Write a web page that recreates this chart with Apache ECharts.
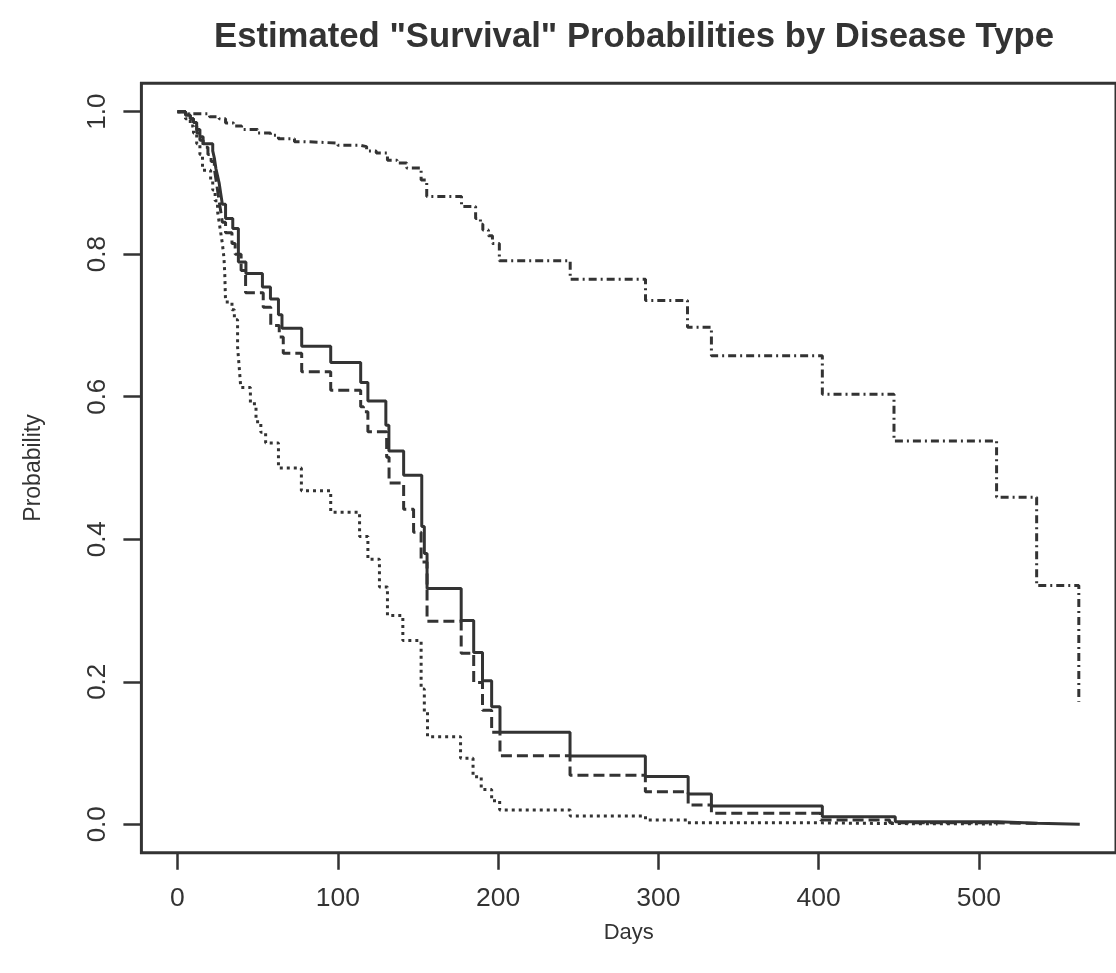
<!DOCTYPE html>
<html>
<head>
<meta charset="utf-8">
<script src="https://cdn.jsdelivr.net/npm/echarts@6/dist/echarts.min.js"></script>
<style>
html,body{margin:0;padding:0;background:#fff;}
#chart{width:1116px;height:973px;}
</style>
</head>
<body>
<div id="chart"></div>
<script>
// ---- data ----
var title = 'Estimated "Survival" Probabilities by Disease Type';
var xName = 'Days';
var yName = 'Probability';
var xTicks = [0, 100, 200, 300, 400, 500];
var yTicks = [0, 0.2, 0.4, 0.6, 0.8, 1.0];

// solid curve
var solidT = [0, 5, 8, 10, 12, 14, 16, 22, 23, 24, 25, 26, 27, 28, 30, 34.5, 38, 42.7, 53, 58, 63, 65.2, 77.5, 95.6, 114.3, 118.8, 130, 131.9, 141.1, 152.4, 154, 155.7, 177, 184.8, 190.3, 196, 201.2, 244.9, 291.9, 318.6, 333.1, 402.3, 447.8, 511.6, 536.6, 562.9];
var solidS = [1, 0.995, 0.99, 0.985, 0.975, 0.965, 0.955, 0.945, 0.935, 0.92, 0.91, 0.9, 0.885, 0.87, 0.85, 0.836, 0.789, 0.773, 0.754, 0.737, 0.715, 0.696, 0.671, 0.648, 0.620, 0.594, 0.560, 0.524, 0.490, 0.418, 0.380, 0.331, 0.286, 0.241, 0.2015, 0.165, 0.129, 0.096, 0.067, 0.0425, 0.0257, 0.0107, 0.0036, 0.0014, 0, 0];

// dashed curve
var dashT = [0, 5, 8, 10, 12, 14, 16, 19, 21, 23, 24, 25, 26, 27, 28, 30, 34, 36, 39.7, 42.5, 53.5, 58.2, 63.5, 66, 77.5, 95.6, 114.3, 116, 118.8, 130.5, 132, 141.1, 147.3, 152, 155.7, 177, 184.8, 190.3, 196, 201.2, 244.9, 291.9, 318.6, 333.1, 401.2, 444.3, 511.6, 536.6];
var dashS = [1, 0.995, 0.99, 0.98, 0.97, 0.96, 0.95, 0.94, 0.93, 0.92, 0.905, 0.89, 0.875, 0.86, 0.845, 0.83, 0.815, 0.80, 0.777, 0.746, 0.7255, 0.70, 0.684, 0.661, 0.635, 0.609, 0.586, 0.579, 0.551, 0.515, 0.479, 0.442, 0.41, 0.368, 0.285, 0.240, 0.199, 0.160, 0.129, 0.0963, 0.069, 0.0458, 0.027, 0.0154, 0.006, 0.002, 0.001, 0];

// dotted curve
var dotT = [0, 5, 8, 10, 12, 14, 15.6, 20.7, 22, 23.5, 25, 26, 27, 28, 29, 29.5, 30, 34, 35.5, 37.5, 38.5, 39.5, 45.5, 49, 52, 55, 63, 77.3, 95.6, 113.6, 118.8, 126, 131, 140.6, 152, 154, 156, 176.6, 184.4, 189.5, 196, 201, 245, 292, 318, 402, 447, 511.6];
var dotS = [1, 0.99, 0.98, 0.97, 0.955, 0.94, 0.918, 0.904, 0.89, 0.875, 0.86, 0.845, 0.83, 0.815, 0.795, 0.773, 0.733, 0.722, 0.708, 0.67, 0.642, 0.613, 0.59, 0.565, 0.55, 0.535, 0.5, 0.468, 0.438, 0.404, 0.372, 0.333, 0.293, 0.258, 0.19, 0.158, 0.123, 0.0926, 0.0668, 0.049, 0.033, 0.020, 0.0117, 0.006, 0.002, 0.001, 0.0005, 0];

// dash-dot curve
var dashDotT = [0, 7, 20, 26, 30, 35, 40, 50, 58, 63, 73, 79, 100, 114, 118, 124, 131, 137, 143, 152, 155.5, 177.2, 186, 189, 190.5, 194, 196.5, 200.8, 245, 292, 318.2, 333.1, 402.3, 447, 511, 536, 562.3];
var dashDotS = [1, 0.997, 0.993, 0.99, 0.984, 0.98, 0.975, 0.97, 0.967, 0.962, 0.958, 0.956, 0.953, 0.951, 0.945, 0.942, 0.932, 0.928, 0.921, 0.904, 0.881, 0.867, 0.85, 0.842, 0.834, 0.826, 0.815, 0.791, 0.765, 0.735, 0.6975, 0.6576, 0.6034, 0.538, 0.459, 0.335, 0.172];

function pairs(t, s) {
  var out = [];
  for (var i = 0; i < t.length; i++) out.push([t[i], s[i]]);
  return out;
}

var ink = '#333333';
var font = "'Liberation Sans', Arial, Helvetica, sans-serif";

var chart = echarts.init(document.getElementById('chart'), null, {renderer: 'canvas'});

function curve(name, t, s, type) {
  return {
    name: name,
    type: 'line',
    step: 'end',
    showSymbol: false,
    symbol: 'none',
    animation: false,
    lineStyle: {color: ink, width: 3, type: type},
    data: pairs(t, s)
  };
}

chart.setOption({
  animation: false,
  backgroundColor: '#ffffff',
  graphic: [{
    type: 'text',
    x: 634, y: 37,
    style: {
      text: title,
      fill: ink,
      font: "bold 34.7px " + font,
      textAlign: 'center',
      textVerticalAlign: 'middle'
    }
  }],
  grid: {
    left: 141.4, top: 83.2, right: -13, bottom: 120.2,
    show: true, borderColor: ink, borderWidth: 3, backgroundColor: 'transparent'
  },
  xAxis: {
    type: 'value', min: -22.5, max: 585.5,
    name: xName, nameLocation: 'middle', nameGap: 69,
    nameTextStyle: {color: ink, fontFamily: font, fontSize: 22},
    axisLine: {show: false, onZero: false},
    splitLine: {show: false},
    axisTick: {show: true, inside: false, length: 17, customValues: xTicks, lineStyle: {color: ink, width: 2.5}},
    axisLabel: {show: true, customValues: xTicks, margin: 32, color: ink, fontFamily: font, fontSize: 26.5}
  },
  yAxis: {
    type: 'value', min: -0.04, max: 1.04,
    name: yName, nameLocation: 'middle', nameGap: 96,
    nameTextStyle: {color: ink, fontFamily: font, fontSize: 23},
    axisLine: {show: false, onZero: false},
    splitLine: {show: false},
    axisTick: {show: true, inside: false, length: 18, customValues: yTicks, lineStyle: {color: ink, width: 2.5}},
    axisLabel: {show: true, customValues: yTicks, rotate: 90, margin: 31, color: ink, fontFamily: font, fontSize: 26,
      formatter: function (v) { return v.toFixed(1); }}
  },
  series: [
    curve('Solid', solidT, solidS, 'solid'),
    curve('Dashed', dashT, dashS, [11, 5]),
    curve('Dotted', dotT, dotS, [3, 4]),
    curve('DashDot', dashDotT, dashDotS, [8, 4, 2, 4])
  ]
});
</script>
</body>
</html>
